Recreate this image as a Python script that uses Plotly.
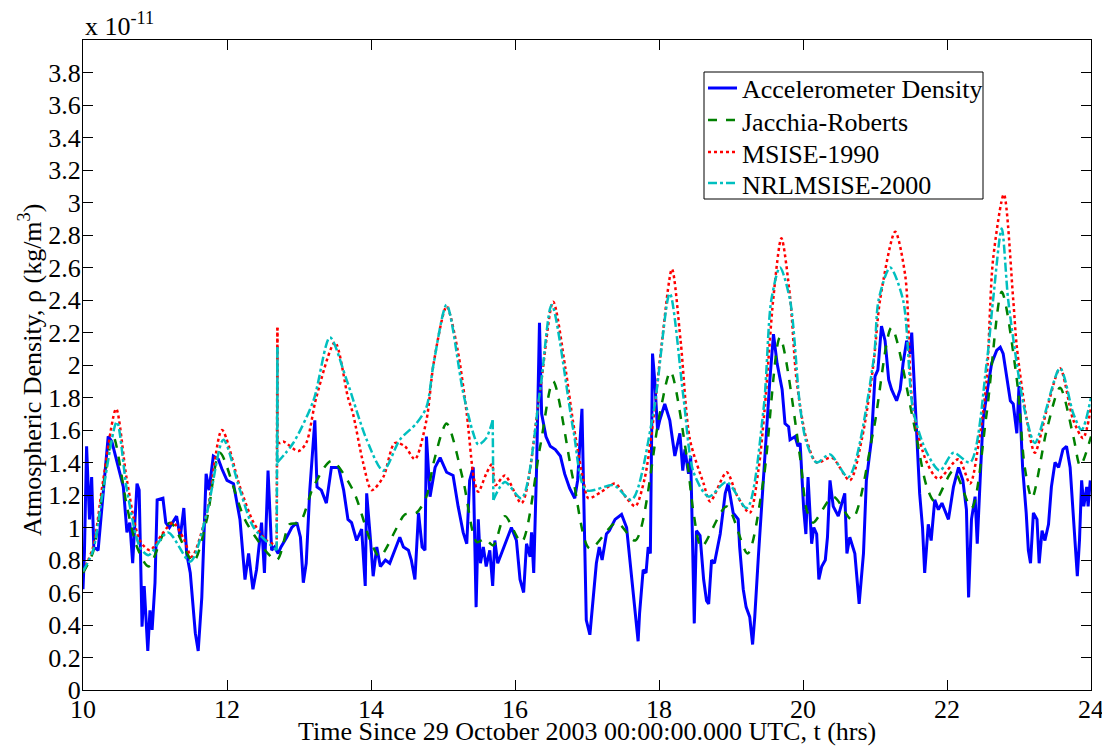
import plotly.graph_objects as go

# density values are in units of 1e-11 kg/m^3, time in hours
x_ticks = [10, 12, 14, 16, 18, 20, 22, 24]
y_ticks = [0, 0.2, 0.4, 0.6, 0.8, 1, 1.2, 1.4, 1.6, 1.8, 2, 2.2, 2.4, 2.6, 2.8, 3, 3.2, 3.4, 3.6, 3.8]
y_ticktext = ['0', '0.2', '0.4', '0.6', '0.8', '1', '1.2', '1.4', '1.6', '1.8', '2', '2.2', '2.4',
              '2.6', '2.8', '3', '3.2', '3.4', '3.6', '3.8']

acc_t = [10.00, 10.02, 10.05, 10.09, 10.12, 10.15, 10.21, 10.28, 10.35, 10.40, 10.47, 10.56, 10.61, 10.65,
         10.69, 10.75, 10.78, 10.82, 10.85, 10.90, 10.93, 10.96, 11.00, 11.03, 11.11, 11.15, 11.20, 11.24,
         11.30, 11.35, 11.40, 11.44, 11.49, 11.56, 11.60, 11.65, 11.71, 11.75, 11.81, 11.88, 11.93, 12.00,
         12.09, 12.18, 12.25, 12.30, 12.36, 12.41, 12.48, 12.52, 12.57, 12.62, 12.66, 12.71, 12.75, 12.83,
         12.90, 12.97, 13.02, 13.06, 13.10, 13.15, 13.20, 13.22, 13.25, 13.31, 13.38, 13.45, 13.55, 13.62,
         13.68, 13.73, 13.80, 13.87, 13.92, 13.94, 13.99, 14.03, 14.08, 14.13, 14.20, 14.26, 14.33, 14.40,
         14.45, 14.52, 14.56, 14.61, 14.66, 14.71, 14.75, 14.77, 14.82, 14.89, 14.96, 15.05, 15.14, 15.21,
         15.28, 15.33, 15.37, 15.42, 15.46, 15.49, 15.52, 15.56, 15.60, 15.65, 15.69, 15.72, 15.76, 15.81,
         15.88, 15.95, 16.02, 16.07, 16.12, 16.16, 16.21, 16.23, 16.26, 16.30, 16.34, 16.37, 16.43, 16.49,
         16.56, 16.63, 16.69, 16.76, 16.83, 16.87, 16.93, 16.95, 16.97, 16.99, 17.04, 17.13, 17.17, 17.21,
         17.27, 17.31, 17.39, 17.48, 17.55, 17.62, 17.66, 17.71, 17.73, 17.78, 17.82, 17.85, 17.88, 17.91,
         17.94, 17.98, 18.01, 18.08, 18.15, 18.22, 18.29, 18.33, 18.36, 18.41, 18.44, 18.49, 18.52, 18.57,
         18.62, 18.66, 18.69, 18.73, 18.77, 18.85, 18.92, 18.96, 19.03, 19.10, 19.12, 19.17, 19.21, 19.26,
         19.30, 19.33, 19.38, 19.45, 19.50, 19.54, 19.59, 19.64, 19.71, 19.75, 19.80, 19.82, 19.89, 19.93,
         19.96, 20.01, 20.04, 20.07, 20.12, 20.15, 20.19, 20.22, 20.26, 20.31, 20.34, 20.375, 20.42, 20.49,
         20.54, 20.58, 20.61, 20.65, 20.72, 20.78, 20.84, 20.88, 20.95, 21.00, 21.04, 21.09, 21.14, 21.19,
         21.23, 21.30, 21.35, 21.39, 21.44, 21.49, 21.51, 21.54, 21.58, 21.62, 21.66, 21.69, 21.74, 21.78,
         21.83, 21.88, 21.93, 21.97, 22.02, 22.09, 22.16, 22.22, 22.27, 22.30, 22.34, 22.39, 22.42, 22.46,
         22.50, 22.57, 22.62, 22.69, 22.74, 22.78, 22.83, 22.88, 22.92, 22.97, 23.00, 23.05, 23.10, 23.13,
         23.16, 23.20, 23.25, 23.28, 23.32, 23.36, 23.41, 23.45, 23.50, 23.55, 23.61, 23.66, 23.71, 23.75,
         23.78, 23.81, 23.84, 23.87, 23.90, 23.94, 23.96, 23.99]
acc_v = [0.62, 0.85, 1.50, 1.05, 1.31, 0.88, 0.86, 1.23, 1.56, 1.53, 1.40, 1.25, 0.97, 1.03,
         0.78, 1.27, 1.23, 0.39, 0.64, 0.24, 0.49, 0.37, 0.66, 1.17, 1.18, 1.03, 1.00, 1.03,
         1.07, 0.94, 1.12, 0.84, 0.72, 0.35, 0.24, 0.57, 1.33, 1.23, 1.44, 1.42, 1.36, 1.29,
         1.27, 1.05, 0.68, 0.84, 0.62, 0.74, 1.03, 0.72, 1.35, 0.86, 0.88, 0.84, 0.88, 0.94,
         1.00, 1.03, 0.94, 0.66, 0.78, 1.23, 1.50, 1.66, 1.25, 1.23, 1.15, 1.37, 1.37, 1.23,
         1.05, 1.03, 0.92, 0.99, 0.64, 1.21, 0.94, 0.70, 0.88, 0.76, 0.80, 0.78, 0.86, 0.94,
         0.88, 0.86, 0.80, 0.68, 1.09, 0.88, 0.86, 1.56, 1.19, 1.37, 1.43, 1.34, 1.32, 1.13,
         0.97, 0.90, 1.29, 1.37, 0.51, 1.05, 0.78, 0.88, 0.76, 0.86, 0.64, 0.92, 0.78, 0.84,
         0.92, 1.00, 0.92, 0.68, 0.60, 0.90, 0.82, 0.97, 0.72, 1.37, 2.26, 1.70, 1.56, 1.50,
         1.48, 1.44, 1.33, 1.24, 1.18, 1.29, 1.73, 1.29, 0.68, 0.43, 0.34, 0.78, 0.88, 0.80,
         0.96, 0.98, 1.05, 1.08, 1.00, 0.68, 0.51, 0.30, 0.47, 0.74, 0.72, 0.88, 0.84, 2.07,
         1.91, 1.60, 1.66, 1.76, 1.66, 1.44, 1.58, 1.35, 1.48, 1.33, 1.44, 0.41, 0.98, 0.95,
         0.68, 0.55, 0.53, 0.80, 0.78, 0.96, 1.21, 1.27, 1.09, 1.05, 0.88, 0.62, 0.51, 0.45,
         0.28, 0.45, 0.82, 1.29, 1.66, 1.91, 2.19, 2.01, 1.85, 1.64, 1.62, 1.54, 1.56, 1.50,
         1.52, 1.11, 0.96, 1.31, 0.90, 1.00, 0.96, 0.68, 0.76, 0.80, 0.94, 1.29, 1.13, 1.07,
         1.15, 1.21, 0.84, 0.94, 0.84, 0.53, 0.84, 1.29, 1.54, 1.93, 1.97, 2.24, 2.15, 1.91,
         1.85, 1.78, 1.85, 2.01, 2.15, 2.07, 2.20, 1.91, 1.60, 1.21, 1.00, 0.72, 1.02, 0.92,
         1.17, 1.11, 1.15, 1.11, 1.05, 1.25, 1.37, 1.29, 1.11, 0.57, 1.05, 1.19, 0.90, 1.29,
         1.66, 1.87, 2.01, 2.09, 2.11, 2.07, 1.91, 1.78, 1.76, 1.58, 1.87, 1.37, 1.09, 0.86,
         0.78, 1.09, 1.05, 0.78, 0.98, 0.92, 1.02, 1.25, 1.40, 1.37, 1.48, 1.50, 1.37, 1.09,
         0.94, 0.70, 0.92, 1.29, 1.13, 1.25, 1.13, 1.29]

jr_t = [10.00, 10.14, 10.28, 10.42, 10.61, 10.75, 10.91, 11.21, 11.53, 11.72, 11.90, 12.27, 12.69, 12.87,
        13.01, 13.20, 13.45, 13.75, 13.99, 14.12, 14.36, 14.47, 14.63, 14.77, 14.87, 15.05, 15.28, 15.47,
        15.58, 15.70, 15.86, 16.09, 16.35, 16.53, 16.81, 17.04, 17.41, 17.67, 18.01, 18.16, 18.38, 18.48,
        18.59, 18.94, 19.23, 19.45, 19.68, 19.96, 20.05, 20.14, 20.42, 20.68, 20.98, 21.23, 21.53, 21.72,
        21.83, 22.09, 22.34, 22.55, 22.76, 22.97, 23.08, 23.18, 23.385, 23.57, 23.755, 23.85, 24.00]
jr_v = [0.72, 0.85, 1.25, 1.56, 1.13, 0.88, 0.76, 1.03, 0.79, 1.05, 1.46, 1.03, 0.80, 1.02,
        1.03, 1.25, 1.41, 1.23, 0.92, 0.82, 1.00, 1.08, 1.09, 1.19, 1.40, 1.64, 1.29, 0.91,
        0.93, 0.89, 1.07, 0.91, 1.50, 1.90, 1.29, 0.87, 1.03, 0.92, 1.70, 1.96, 1.45, 1.09,
        0.88, 1.13, 0.84, 1.29, 2.17, 1.43, 1.11, 1.03, 1.19, 1.05, 1.60, 2.23, 1.66, 1.25,
        1.16, 1.35, 1.12, 1.70, 2.45, 1.91, 1.37, 1.18, 1.60, 1.86, 1.56, 1.38, 1.56]

msis90_t = [10.00, 10.14, 10.28, 10.46, 10.61, 10.79, 10.93, 11.10, 11.25, 11.40, 11.51, 11.72, 11.93, 12.18,
            12.37, 12.55, 12.69, 12.70, 12.70, 12.74, 12.78, 12.99, 13.10, 13.24, 13.50, 13.68, 13.75, 13.89,
            14.01, 14.17, 14.33, 14.47, 14.61, 14.77, 14.87, 15.05, 15.20, 15.33, 15.43, 15.49, 15.60, 15.68,
            15.73, 15.86, 16.09, 16.35, 16.53, 16.70, 16.81, 16.95, 17.02, 17.20, 17.39, 17.55, 17.67, 17.80,
            17.92, 18.03, 18.18, 18.30, 18.43, 18.62, 18.71, 18.94, 19.08, 19.26, 19.38, 19.47, 19.59, 19.70,
            19.82, 19.91, 20.05, 20.19, 20.40, 20.65, 20.82, 20.98, 21.07, 21.28, 21.42, 21.53, 21.72, 21.88,
            22.16, 22.32, 22.45, 22.55, 22.64, 22.79, 22.92, 22.97, 23.11, 23.22, 23.40, 23.57, 23.755, 23.89,
            24.00]
msis90_v = [0.73, 0.88, 1.29, 1.73, 1.29, 0.92, 0.86, 0.96, 1.03, 0.93, 0.82, 1.09, 1.60, 1.25,
            1.03, 0.92, 0.89, 2.23, 1.52, 1.52, 1.53, 1.47, 1.52, 1.80, 2.14, 1.80, 1.70, 1.40,
            1.23, 1.31, 1.52, 1.50, 1.42, 1.66, 2.01, 2.36, 2.10, 1.70, 1.30, 1.22, 1.33, 1.39,
            1.26, 1.32, 1.15, 1.85, 2.39, 1.98, 1.64, 1.29, 1.18, 1.22, 1.27, 1.18, 1.13, 1.30,
            1.66, 2.10, 2.59, 2.15, 1.54, 1.27, 1.16, 1.34, 1.20, 1.09, 1.35, 1.74, 2.42, 2.78,
            2.42, 1.91, 1.54, 1.40, 1.43, 1.29, 1.55, 2.01, 2.40, 2.82, 2.55, 1.72, 1.40, 1.30,
            1.42, 1.27, 1.55, 1.91, 2.65, 3.05, 2.40, 2.11, 1.66, 1.46, 1.75, 1.98, 1.66, 1.55,
            1.74]

nrl_t = [10.00, 10.14, 10.28, 10.47, 10.61, 10.79, 10.91, 11.18, 11.49, 11.72, 11.95, 12.18, 12.37, 12.69,
         12.70, 12.70, 12.92, 13.20, 13.43, 13.66, 13.94, 14.17, 14.40, 14.63, 14.77, 14.87, 15.05, 15.28,
         15.42, 15.49, 15.60, 15.69, 15.70, 15.86, 16.09, 16.35, 16.51, 16.81, 16.99, 17.37, 17.62, 17.92,
         18.15, 18.34, 18.48, 18.69, 18.94, 19.22, 19.45, 19.56, 19.68, 19.82, 19.96, 20.05, 20.19, 20.375,
         20.63, 20.98, 21.05, 21.21, 21.39, 21.53, 21.72, 21.90, 22.09, 22.32, 22.55, 22.64, 22.76, 22.85,
         23.01, 23.11, 23.22, 23.57, 23.755, 23.87, 24.00]
nrl_v = [0.73, 0.86, 1.23, 1.65, 1.23, 0.88, 0.83, 0.97, 0.79, 1.09, 1.54, 1.23, 1.00, 0.86,
         2.11, 1.40, 1.52, 1.78, 2.17, 1.91, 1.54, 1.35, 1.54, 1.64, 1.74, 2.01, 2.37, 1.83,
         1.58, 1.51, 1.55, 1.66, 1.17, 1.28, 1.18, 1.85, 2.37, 1.60, 1.23, 1.26, 1.17, 1.70,
         2.44, 1.80, 1.34, 1.19, 1.28, 1.12, 1.72, 2.40, 2.60, 2.40, 1.74, 1.52, 1.40, 1.45,
         1.31, 2.03, 2.40, 2.60, 2.40, 1.72, 1.46, 1.35, 1.46, 1.40, 2.01, 2.40, 2.84, 2.40,
         1.89, 1.66, 1.52, 1.98, 1.70, 1.60, 1.80]


def split_jumps(t, v, gap=0.015):
    # break the spline at near-vertical jumps so they stay straight
    xs, ys = [t[0]], [v[0]]
    for i in range(1, len(t)):
        if t[i] - t[i - 1] < gap or (i > 1 and t[i - 1] - t[i - 2] < gap):
            xs += [None, t[i - 1]]
            ys += [None, v[i - 1]]
        xs.append(t[i])
        ys.append(v[i])
    return xs, ys


FONT = 'Liberation Serif, Times New Roman, serif'
FS = 26
# the page body has an 8px margin, so the figure is sized to sit inside the window
OFF = 8
W, H = 1110 - OFF, 750 - OFF
# plot box wanted on screen: x 83..1091, y 40..690
L, T = 83 - OFF, 40 - OFF
R, B = W - (1091 - OFF), H - (690 - OFF)
PW, PH = W - L - R, H - T - B


def px(x):
    # screen x pixel -> paper fraction
    return (x - OFF - L) / PW


def py(y):
    # screen y pixel -> paper fraction
    return (H - B - (y - OFF)) / PH


series = [('Accelerometer Density', acc_t, acc_v, '#0000ff', 'solid', 3),
          ('Jacchia-Roberts', jr_t, jr_v, '#008000', 'dash', 2.5),
          ('MSISE-1990', msis90_t, msis90_v, '#ff0000', 'dot', 2.5),
          ('NRLMSISE-2000', nrl_t, nrl_v, '#00bfbf', 'dashdot', 2.5)]

fig = go.Figure()
for k, (name, t, v, color, dash, lw) in enumerate(series):
    if k == 0:
        line = dict(color=color, width=lw)
        x, y = t, v
    else:
        line = dict(color=color, width=lw, dash=dash, shape='spline', smoothing=0.8)
        x, y = split_jumps(t, v)
    fig.add_trace(go.Scatter(x=x, y=y, mode='lines', name=name, line=line, showlegend=False))

# legend box drawn by hand to match the MATLAB layout
fig.add_shape(type='rect', xref='paper', yref='paper', x0=px(704), x1=px(983), y0=py(199), y1=py(72),
              line=dict(color='black', width=1), fillcolor='white', layer='above')
row_y = [88, 120, 152, 183]
for (name, t, v, color, dash, lw), ry in zip(series, row_y):
    fig.add_shape(type='line', xref='paper', yref='paper', x0=px(708), x1=px(737), y0=py(ry), y1=py(ry),
                  line=dict(color=color, width=lw, dash=dash), layer='above')
    fig.add_annotation(x=px(740), y=py(ry + 2), xref='paper', yref='paper', xanchor='left', yanchor='middle',
                       text=name, showarrow=False, font=dict(family=FONT, size=FS, color='black'))

axis_style = dict(ticks='inside', ticklen=10, tickcolor='black', showline=True, linecolor='black',
                  linewidth=1, mirror='ticks', showgrid=False, zeroline=False, automargin=False,
                  ticklabeloverflow='allow', tickfont=dict(family=FONT, size=FS, color='black'))

fig.update_xaxes(range=[10, 24], tickvals=x_ticks, ticklabelstandoff=-4, **axis_style)
fig.update_yaxes(range=[0, 4], tickvals=y_ticks, ticktext=y_ticktext, ticklabelstandoff=-4, **axis_style)

fig.add_annotation(x=0.5, y=py(732), xref='paper', yref='paper', xanchor='center', yanchor='middle',
                   text='Time Since 29 October 2003 00:00:00.000 UTC, t (hrs)', showarrow=False,
                   font=dict(family=FONT, size=FS, color='black'))
fig.add_annotation(x=px(30), y=py(370), xref='paper', yref='paper', xanchor='center', yanchor='middle',
                   text='Atmospheric Density, ρ (kg/m<sup>3</sup>)', textangle=-90, showarrow=False,
                   font=dict(family=FONT, size=FS, color='black'))
fig.add_annotation(x=0, y=1, xref='paper', yref='paper', xanchor='left', yanchor='bottom', yshift=-3,
                   text='x 10<sup>-11</sup>', showarrow=False,
                   font=dict(family=FONT, size=FS, color='black'))

fig.update_layout(
    width=W, height=H,
    margin=dict(l=L, r=R, t=T, b=B),
    paper_bgcolor='white', plot_bgcolor='white',
    font=dict(family=FONT, size=FS, color='black'),
    showlegend=False,
)

fig.write_html('out.html')
